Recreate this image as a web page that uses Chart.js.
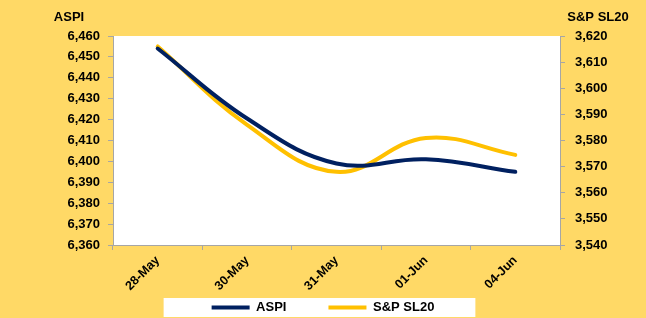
<!DOCTYPE html>
<html>
<head>
<meta charset="utf-8">
<script src="https://cdn.jsdelivr.net/npm/chart.js@4/dist/chart.umd.min.js"></script>
<style>
  html, body { margin: 0; padding: 0; background: #FFD966; }
  canvas { display: block; }
</style>
</head>
<body>
<canvas id="c" width="646" height="318"></canvas>
<script>
const categories = ['28-May', '30-May', '31-May', '01-Jun', '04-Jun'];
const aspiValues = [6454, 6420.5, 6399, 6401, 6395];
const spsl20Values = [3616, 3586, 3568, 3581, 3574.5];
const leftTitle = 'ASPI';
const rightTitle = 'S&P SL20';

const FONT = '"Liberation Sans", Arial, sans-serif';
const AXIS_GRAY = '#A6A6A6';
const LEGEND_PAD = 42;
const LEGEND_H = 24;

const bgPlugin = {
  id: 'bgPlugin',
  beforeUpdate(chart) {
    const lg = chart.legend;
    if (lg && !lg._patched) {
      const orig = lg.fit.bind(lg);
      lg.fit = function () { orig(); this.height = LEGEND_H; };
      lg._patched = true;
    }
  },
  afterLayout(chart) {
    const lg = chart.legend;
    if (lg) {
      lg.top = lg.top - LEGEND_PAD + 7;
    }
  },
  beforeDraw(chart) {
    const ctx = chart.ctx;
    const a = chart.chartArea;
    ctx.save();
    ctx.fillStyle = '#FFD966';
    ctx.fillRect(0, 0, chart.width, chart.height);
    ctx.fillStyle = '#FFFFFF';
    ctx.fillRect(a.left, a.top, a.right - a.left, a.bottom - a.top);
    const hb = chart.legend.legendHitBoxes;
    if (hb && hb.length) {
      const l = hb[0].left - 48;
      const last = hb[hb.length - 1];
      const r = last.left + last.width + 41;
      const cy = hb[0].top + hb[0].height / 2;
      ctx.fillRect(l, cy - 9.5, r - l, 19);
    }
    ctx.restore();
  },
  afterDraw(chart) {
    const ctx = chart.ctx;
    const a = chart.chartArea;
    ctx.save();
    ctx.fillStyle = '#000';
    ctx.font = 'bold 13px ' + FONT;
    ctx.textAlign = 'center';
    ctx.textBaseline = 'middle';
    ctx.fillText(leftTitle, chart.scales.y.right - 44, a.top - 19);
    ctx.fillText(rightTitle, chart.scales.y1.left + 38, a.top - 19);
    ctx.restore();
  }
};

new Chart(document.getElementById('c'), {
  type: 'line',
  data: {
    labels: categories,
    datasets: [
      {
        label: 'ASPI',
        data: aspiValues,
        yAxisID: 'y',
        borderColor: '#002060',
        backgroundColor: '#002060',
        borderWidth: 4,
        pointRadius: 0,
        tension: 0.4,
        borderCapStyle: 'round',
        fill: false
      },
      {
        label: 'S&P SL20',
        data: spsl20Values,
        yAxisID: 'y1',
        borderColor: '#FFC000',
        backgroundColor: '#FFC000',
        borderWidth: 4,
        pointRadius: 0,
        tension: 0.4,
        borderCapStyle: 'round',
        fill: false
      }
    ]
  },
  options: {
    responsive: false,
    animation: false,
    layout: { padding: { top: 36, left: 0, right: 0, bottom: 0 } },
    plugins: {
      tooltip: { enabled: false },
      legend: {
        position: 'bottom',
        labels: {
          color: '#000',
          font: { family: FONT, size: 13, weight: 'bold' },
          boxWidth: 38,
          boxHeight: 4,
          padding: LEGEND_PAD,
          generateLabels(chart) {
            const items = Chart.defaults.plugins.legend.labels.generateLabels(chart);
            items.forEach(it => { it.lineWidth = 0; });
            return items;
          }
        }
      }
    },
    scales: {
      x: {
        type: 'category',
        offset: true,
        grid: {
          offset: true,
          drawOnChartArea: false,
          drawTicks: true,
          tickLength: 5,
          color: AXIS_GRAY
        },
        border: { display: true, color: AXIS_GRAY, width: 1 },
        ticks: {
          color: '#000',
          font: { family: FONT, size: 12.5, weight: 'bold' },
          minRotation: 45,
          maxRotation: 45,
          padding: 3,
          autoSkip: false
        },
        afterFit(scale) {
          scale.height = 318 - 245 - LEGEND_H;
        }
      },
      y: {
        position: 'left',
        min: 6360,
        max: 6460,
        grid: {
          drawOnChartArea: false,
          drawTicks: true,
          tickLength: 5,
          color: AXIS_GRAY
        },
        border: { display: true, color: AXIS_GRAY, width: 1 },
        ticks: {
          stepSize: 10,
          color: '#000',
          font: { family: FONT, size: 13, weight: 'bold' },
          padding: 8
        },
        afterFit(scale) { scale.width = 113; }
      },
      y1: {
        position: 'right',
        min: 3540,
        max: 3620,
        grid: {
          drawOnChartArea: false,
          drawTicks: true,
          tickLength: 5,
          color: AXIS_GRAY
        },
        border: { display: true, color: AXIS_GRAY, width: 1 },
        ticks: {
          stepSize: 10,
          color: '#000',
          font: { family: FONT, size: 13, weight: 'bold' },
          padding: 10
        },
        afterFit(scale) { scale.width = 86; }
      }
    }
  },
  plugins: [bgPlugin]
});
</script>
</body>
</html>
